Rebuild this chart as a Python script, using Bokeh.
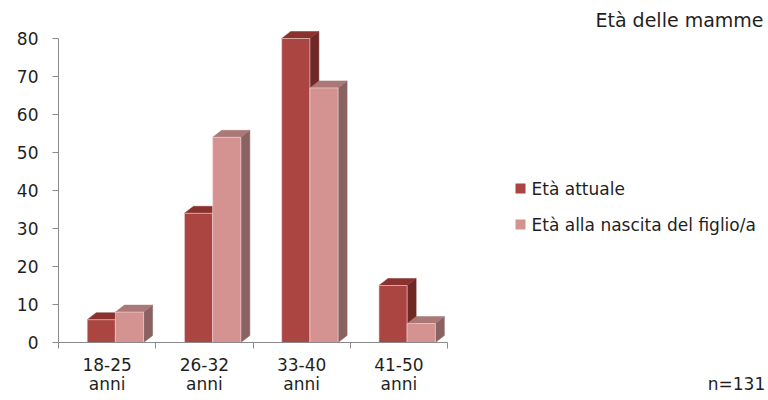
from bokeh.plotting import figure
from bokeh.models import FixedTicker, Range1d, Label, LinearAxis
from bokeh.embed import file_html
from bokeh.resources import INLINE
from bokeh.core.properties import value

# ---- data ----
categories = ["18-25 anni", "26-32 anni", "33-40 anni", "41-50 anni"]
series_names = ["Età attuale", "Età alla nascita del figlio/a"]
eta_attuale = [6, 34, 80, 15]
eta_nascita = [8, 54, 67, 5]
y_ticks = [0, 10, 20, 30, 40, 50, 60, 70, 80]
title_text = "Età delle mamme"
note_text = "n=131"

# ---- layout constants ----
W, H = 768, 400
LEFT, BOTTOM, TOP = 58, 58, 4
PX_Y = 3.8          # pixels per value unit
PX_X = 97.25        # pixels per category
YMAX = (H - BOTTOM - TOP) / PX_Y
XMAX = (W - LEFT) / PX_X
FONT = "DejaVu Sans"
TXT = "#1f1f1f"
AXC = "#8a8a8a"
AX_FS = "17px"
LEG_FS = "17px"
TITLE_FS = "19px"

# colours: front, top, side
RED = ("#AB4542", "#8A3230", "#6F2826")
PINK = ("#D49391", "#A97877", "#8A6262")

p = figure(width=W, height=H, x_range=Range1d(0, XMAX), y_range=Range1d(0, YMAX),
           output_backend="svg", toolbar_location=None,
           min_border_left=LEFT, min_border_right=0, min_border_top=TOP,
           min_border_bottom=BOTTOM)
p.outline_line_color = None
p.xgrid.visible = False
p.ygrid.visible = False
p.background_fill_color = "white"
p.border_fill_color = "white"

DX = 9 / PX_X
DY = 7 / PX_Y
BW = 0.29
OFF = 0.295


def draw_series(vals, start, cols):
    x0 = [i + start for i in range(len(vals))]
    x1 = [x + BW for x in x0]
    side_xs = [[b, b + DX, b + DX, b] for b in x1]
    side_ys = [[0, DY, v + DY, v] for v in vals]
    top_xs = [[a, b, b + DX, a + DX] for a, b in zip(x0, x1)]
    top_ys = [[v, v, v + DY, v + DY] for v in vals]
    p.patches(side_xs, side_ys, fill_color=cols[2], line_color=cols[2], line_width=0.5)
    p.patches(top_xs, top_ys, fill_color=cols[1], line_color=cols[1], line_width=0.5)
    p.quad(left=x0, right=x1, bottom=[0] * len(vals), top=vals,
           fill_color=cols[0], line_color="#f3dede", line_width=0.6)


draw_series(eta_attuale, OFF, RED)
draw_series(eta_nascita, OFF + BW, PINK)

# ---- y axis ----
ya = p.yaxis[0]
ya.ticker = FixedTicker(ticks=y_ticks)
ya.bounds = (0, 80)
ya.axis_line_color = AXC
ya.major_tick_line_color = AXC
ya.major_tick_out = 6
ya.major_tick_in = 0
ya.minor_tick_line_color = None
ya.major_label_standoff = 14
ya.major_label_text_font = FONT
ya.major_label_text_font_size = AX_FS
ya.major_label_text_color = TXT

# ---- x axis (first label line + ticks) ----
ranges_lbl = [c.split(" ")[0] for c in categories]
second_lbl = [c.split(" ", 1)[1] for c in categories]
centers = [i + 0.5 for i in range(len(categories))]

xa = p.xaxis[0]
xa.ticker = FixedTicker(ticks=centers, minor_ticks=list(range(len(categories) + 1)))
xa.bounds = (0, len(categories))
xa.axis_line_color = AXC
xa.major_tick_line_color = None
xa.major_tick_out = 0
xa.major_tick_in = 0
xa.minor_tick_line_color = AXC
xa.minor_tick_out = 6
xa.minor_tick_in = 0
xa.major_label_overrides = {c: lab for c, lab in zip(centers, ranges_lbl)}
xa.major_label_standoff = 9
xa.major_label_text_font = FONT
xa.major_label_text_font_size = AX_FS
xa.major_label_text_color = TXT

# ---- second x axis: "anni" line and the sample size note ----
NOTE_X = (736 - LEFT) / PX_X
overrides2 = {c: lab for c, lab in zip(centers, second_lbl)}
overrides2[NOTE_X] = note_text
xa2 = LinearAxis(ticker=FixedTicker(ticks=centers + [NOTE_X], minor_ticks=[]))
xa2.axis_line_color = None
xa2.major_tick_line_color = None
xa2.minor_tick_line_color = None
xa2.major_tick_out = 0
xa2.major_tick_in = 0
xa2.minor_tick_out = 0
xa2.major_label_overrides = overrides2
xa2.major_label_standoff = 0
xa2.major_label_text_font = FONT
xa2.major_label_text_font_size = AX_FS
xa2.major_label_text_color = TXT
p.add_layout(xa2, "below")

# ---- legend (manual) ----
def dx_(fx):
    return (fx - LEFT) / PX_X


def dy_(fy):
    return (H - BOTTOM - fy) / PX_Y


leg_y = [dy_(188), dy_(224)]
p.scatter([dx_(520)] * 2, leg_y, marker="square", size=10,
          fill_color=[RED[0], PINK[0]], line_color=None)
p.text([dx_(531)] * 2, leg_y, text=series_names, text_font=value(FONT),
       text_font_size=LEG_FS, text_color=TXT, text_baseline="middle", text_align="left")

p.add_layout(Label(x=dx_(763), y=dy_(19), text=title_text, text_font=FONT,
                   text_font_size=TITLE_FS, text_color=TXT, text_align="right",
                   text_baseline="middle"))

open("out.html", "w").write(file_html(p, INLINE))
